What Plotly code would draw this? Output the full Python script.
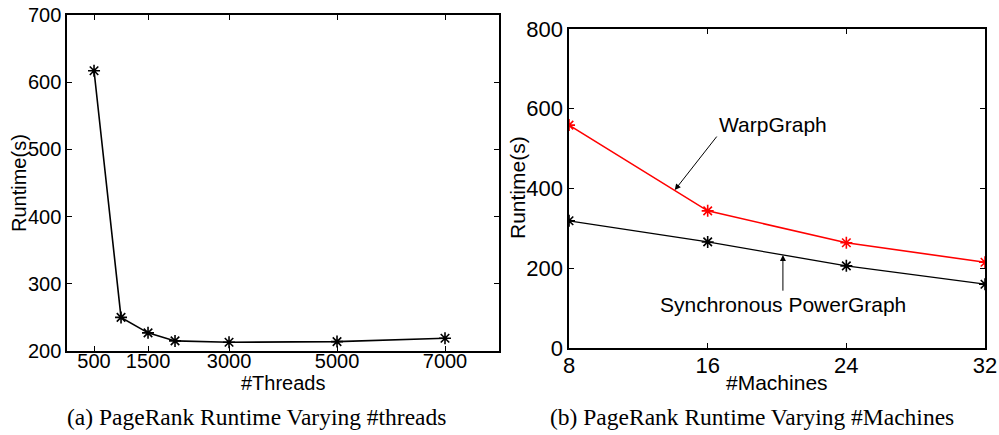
import plotly.graph_objects as go

threads = [500, 1000, 1500, 2000, 3000, 5000, 7000]
runtime_threads = [617, 250, 227, 215, 213, 214, 219]
thread_ticks = [500, 1500, 3000, 5000, 7000]

machines = [8, 16, 24, 32]
warpgraph = [559, 344, 264, 215]
sync_powergraph = [319, 266, 206, 160]

fig = go.Figure()
fig.add_trace(go.Scatter(x=threads, y=runtime_threads, mode="lines+markers",
                         line=dict(color="black", width=1.6),
                         marker=dict(symbol="asterisk-open", size=10, line=dict(color="black", width=1.6)),
                         xaxis="x", yaxis="y", showlegend=False))
fig.add_trace(go.Scatter(x=machines, y=warpgraph, mode="lines+markers",
                         line=dict(color="red", width=1.6),
                         marker=dict(symbol="asterisk-open", size=10, line=dict(color="red", width=1.6)),
                         xaxis="x2", yaxis="y2", showlegend=False))
fig.add_trace(go.Scatter(x=machines, y=sync_powergraph, mode="lines+markers",
                         line=dict(color="black", width=1.3),
                         marker=dict(symbol="asterisk-open", size=10, line=dict(color="black", width=1.6)),
                         xaxis="x2", yaxis="y2", showlegend=False))

font = "Liberation Sans, Arial, sans-serif"
axis_common = dict(showgrid=False, zeroline=False, showline=True, linecolor="black", linewidth=1.5,
                   mirror="allticks", ticks="inside", ticklen=5, tickcolor="black", automargin=False)

fig.update_layout(
    template="none",
    width=999, height=435, margin=dict(l=0, r=0, t=0, b=0),
    paper_bgcolor="white", plot_bgcolor="white",
    xaxis=dict(domain=[0.0671, 0.4995], range=[0, 8000], tickvals=thread_ticks,
               tickfont=dict(family=font, size=20, color="black"), ticklabelstandoff=-9,
               anchor="y", **axis_common),
    yaxis=dict(domain=[0.1931, 0.9655], range=[200, 700], tickvals=[200, 300, 400, 500, 600, 700],
               tickfont=dict(family=font, size=20, color="black"),
               anchor="x", **axis_common),
    xaxis2=dict(domain=[0.5696, 0.986], range=[8, 32], tickvals=machines,
                tickfont=dict(family=font, size=22, color="black"), ticklabelstandoff=-3,
                anchor="y2", **axis_common),
    yaxis2=dict(domain=[0.2, 0.9333], range=[0, 800], tickvals=[0, 200, 400, 600, 800],
                tickfont=dict(family=font, size=22, color="black"),
                anchor="x2", **axis_common),
)

def label(text, x, y, size, angle=0, family=font):
    fig.add_annotation(text=text, xref="paper", yref="paper", x=x/999, y=1-y/435,
                       xanchor="center", yanchor="middle", showarrow=False, textangle=angle,
                       font=dict(family=family, size=size, color="black"))

# axis titles
label("#Threads", 283, 383, 20)
label("Runtime(s)", 19, 183, 20, -90)
label("#Machines", 777, 382, 21)
label("Runtime(s)", 517, 188, 21, -90)

serif = "Liberation Serif, Times New Roman, serif"
label("(a) PageRank Runtime Varying #threads", 256, 417, 23.5, family=serif)
label("(b) PageRank Runtime Varying #Machines", 752, 417, 23.5, family=serif)

fig.add_annotation(text="WarpGraph", xref="x2", yref="y2", x=19.76, y=561, showarrow=False,
                   xanchor="center", font=dict(family=font, size=21, color="black"))
fig.add_annotation(text="", xref="x2", yref="y2", x=14.1, y=396, ax=16.59, ay=534,
                   axref="x2", ayref="y2", showarrow=True, arrowhead=2, arrowsize=1.2,
                   arrowwidth=1, arrowcolor="black")
fig.add_annotation(text="Synchronous PowerGraph", xref="x2", yref="y2", x=20.34, y=108, showarrow=False,
                   xanchor="center", font=dict(family=font, size=21, color="black"))
fig.add_annotation(text="", xref="x2", yref="y2", x=20.34, y=233, ax=20.34, ay=140,
                   axref="x2", ayref="y2", showarrow=True, arrowhead=2, arrowsize=1.2,
                   arrowwidth=1, arrowcolor="black")

fig.write_html("out.html")
